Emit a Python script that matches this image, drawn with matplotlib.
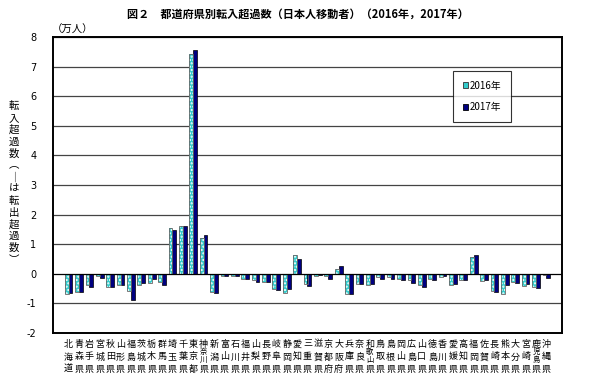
import numpy as np
import matplotlib
matplotlib.use("Agg")
import matplotlib.pyplot as plt
import matplotlib.transforms as mtransforms
from matplotlib.patches import Patch

plt.rcParams['font.family'] = ['Noto Sans CJK JP', 'DejaVu Sans']
plt.rcParams['axes.unicode_minus'] = False

prefectures = ["北海道", "青森県", "岩手県", "宮城県", "秋田県", "山形県", "福島県",
               "茨城県", "栃木県", "群馬県", "埼玉県", "千葉県", "東京都", "神奈川県",
               "新潟県", "富山県", "石川県", "福井県", "山梨県", "長野県", "岐阜県",
               "静岡県", "愛知県", "三重県", "滋賀県", "京都府", "大阪府", "兵庫県",
               "奈良県", "和歌山県", "鳥取県", "島根県", "岡山県", "広島県", "山口県",
               "徳島県", "香川県", "愛媛県", "高知県", "福岡県", "佐賀県", "長崎県",
               "熊本県", "大分県", "宮崎県", "鹿児島県", "沖縄県"]

v2016 = [-0.69, -0.62, -0.37, -0.06, -0.46, -0.37, -0.59,
         -0.37, -0.31, -0.27, 1.56, 1.61, 7.42, 1.20,
         -0.62, -0.09, -0.06, -0.18, -0.22, -0.27, -0.51,
         -0.66, 0.63, -0.34, -0.07, -0.07, 0.17, -0.69,
         -0.33, -0.38, -0.12, -0.12, -0.17, -0.21, -0.39,
         -0.18, -0.10, -0.37, -0.20, 0.56, -0.24, -0.57,
         -0.68, -0.27, -0.40, -0.44, -0.04]

v2017 = [-0.66, -0.62, -0.46, -0.13, -0.46, -0.39, -0.87,
         -0.31, -0.17, -0.38, 1.49, 1.62, 7.55, 1.30,
         -0.66, -0.09, -0.07, -0.16, -0.28, -0.28, -0.56,
         -0.53, 0.49, -0.42, -0.04, -0.17, 0.28, -0.69,
         -0.36, -0.36, -0.16, -0.16, -0.21, -0.32, -0.43,
         -0.20, -0.09, -0.33, -0.22, 0.63, -0.20, -0.60,
         -0.39, -0.30, -0.33, -0.49, -0.13]

series_names = ["2016年", "2017年"]
yticks = [-2, -1, 0, 1, 2, 3, 4, 5, 6, 7, 8]

title = "図２　都道府県別転入超過数（日本人移動者）（2016年，2017年）"
unit_label = "（万人）"
ylabel_chars = ["転", "入", "超", "過", "数", "︵", "｜", "は", "転", "出", "超", "過", "数", "︶"]

W, H = 600, 383
fig = plt.figure(figsize=(6.0, 3.83), dpi=100)
ax = fig.add_axes([53 / W, 1 - 333 / H, (562 - 53) / W, (333 - 37) / H])

x = np.arange(len(prefectures))
bw = 0.37
cyan = '#33CCCC'
navy = '#000080'

ax.bar(x - bw / 2, v2016, width=bw, color=cyan, hatch='.....', edgecolor='white',
       linewidth=0, zorder=3)
ax.bar(x - bw / 2, v2016, width=bw, fill=False, edgecolor='#666666', linewidth=0.6, zorder=4)
ax.bar(x + bw / 2, v2017, width=bw, color=navy, edgecolor='black', linewidth=0.5, zorder=3)

ax.set_xlim(-1.5, 47.5)
ax.set_ylim(-2, 8)
ax.set_yticks(yticks)
ax.set_yticklabels([str(t) for t in yticks], fontsize=7, family=['DejaVu Sans'])
ax.tick_params(axis='y', length=0, pad=12)
ax.set_xticks([])
for t in yticks:
    ax.axhline(t, color='#444444' if t != 0 else 'black', linewidth=0.9, zorder=1 if t != 0 else 5)
for s in ax.spines.values():
    s.set_linewidth(1.4)
    s.set_color('black')

# x labels (vertical stacked)
trans = mtransforms.blended_transform_factory(ax.transData, fig.transFigure)
for i, name in enumerate(prefectures):
    if len(name) == 3:
        ys = [344, 357, 369.5]
        sizes = [6.5, 6.5, 6.5]
    else:
        ys = [344, 352, 360, 369.5]
        sizes = [6.5, 5.3, 5.3, 6.5]
    for ch, yy, fs in zip(name, ys, sizes):
        ax.text(i, 1 - yy / H, ch, transform=trans, ha='center', va='center',
                fontsize=fs, color='black')

# title
fig.text(298 / W, 1 - 14 / H, title, ha='center', va='center', fontsize=8, weight='bold')
# unit
fig.text(73 / W, 1 - 30 / H, unit_label, ha='center', va='center', fontsize=7.5)
# y label stacked
n = len(ylabel_chars)
y0, y1 = 106, 260
for k, ch in enumerate(ylabel_chars):
    yy = y0 + (y1 - y0) * k / (n - 1)
    fig.text(14 / W, 1 - yy / H, ch, ha='center', va='center', fontsize=7.5)

handles = [Patch(facecolor=cyan, edgecolor='#333333', linewidth=0.6),
           Patch(facecolor=navy, edgecolor='black', linewidth=0.6)]
leg = ax.legend(handles, series_names, loc='upper left', bbox_to_anchor=(0.786, 0.885),
                fontsize=7, frameon=True, fancybox=False, edgecolor='black',
                handlelength=0.55, handleheight=0.55, handletextpad=0.2,
                labelspacing=1.2, borderpad=1.0, borderaxespad=0)
leg.get_frame().set_linewidth(0.8)
leg.set_zorder(10)

fig.savefig("out.png", dpi=100)
